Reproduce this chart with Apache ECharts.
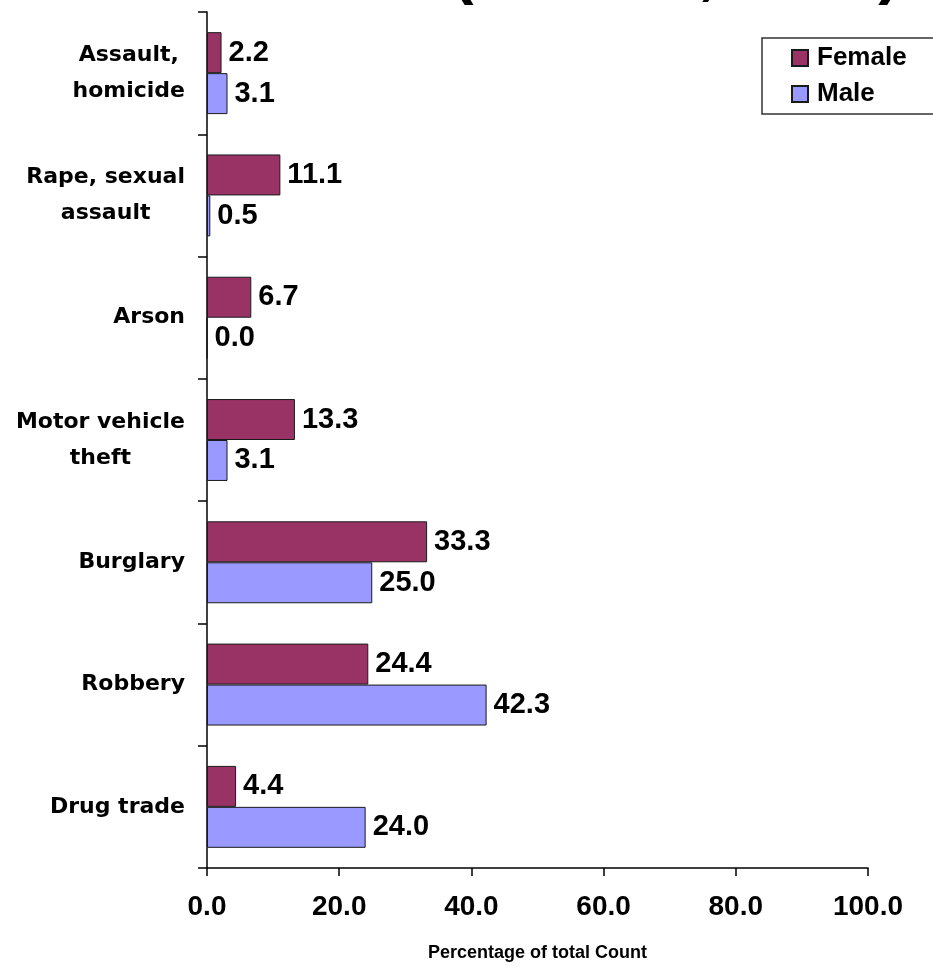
<!DOCTYPE html>
<html>
<head>
<meta charset="utf-8">
<script src="https://cdn.jsdelivr.net/npm/echarts@6/dist/echarts.min.js"></script>
<style>
  html, body { margin: 0; padding: 0; background: #fff; }
  #chart { width: 933px; height: 967px; }
</style>
</head>
<body>
<div id="chart"></div>
<script>
// Offense categories, listed top to bottom
const categories = [
  'Assault,\nhomicide',
  'Rape, sexual\nassault',
  'Arson',
  'Motor vehicle\ntheft',
  'Burglary',
  'Robbery',
  'Drug trade'
];

// Percentage of total count per category
const femaleValues = [2.2, 11.1, 6.7, 13.3, 33.3, 24.4, 4.4];
const maleValues   = [3.1, 0.5, 0.0, 3.1, 25.0, 42.3, 24.0];

// Value axis tick labels
const xTicks = [0, 20, 40, 60, 80, 100];

const seriesNames = ['Female', 'Male'];
const seriesColors = ['#993366', '#9999FF'];

const chart = echarts.init(document.getElementById('chart'), null, { renderer: 'canvas' });

const ARIAL = 'Liberation Sans, Arial, sans-serif';

const valueLabel = {
  show: true,
  position: 'right',
  distance: 7,
  formatter: p => Number(p.value).toFixed(1),
  color: '#000',
  fontFamily: ARIAL,
  fontWeight: 'bold',
  fontSize: 29
};

function makeSeries(name, values, color) {
  return {
    name: name,
    type: 'bar',
    data: values,
    barGap: '0%',
    barCategoryGap: '33%',
    itemStyle: { color: color, borderColor: '#1a1a1a', borderWidth: 1 },
    label: valueLabel,
    emphasis: { disabled: true },
    silent: true
  };
}

const option = {
  animation: false,
  backgroundColor: '#ffffff',
  graphic: [{
    type: 'text',
    left: 452,
    top: -58,
    style: {
      text: '(Female, Male)',
      fontFamily: ARIAL,
      fontWeight: 'bold',
      fontSize: 65,
      fill: '#000'
    }
  }],
  legend: {
    data: seriesNames,
    orient: 'vertical',
    left: 762,
    top: 38,
    padding: [7, 50, 7, 29],
    itemGap: 10,
    itemWidth: 16,
    itemHeight: 16,
    icon: 'rect',
    borderColor: '#333',
    borderWidth: 1.5,
    textStyle: {
      color: '#000',
      fontFamily: ARIAL,
      fontWeight: 'bold',
      fontSize: 26,
      padding: [0, 0, 0, 4]
    }
  },
  grid: {
    left: 207,
    right: 65,
    top: 12,
    bottom: 99,
    containLabel: false,
    outerBoundsMode: 'none'
  },
  xAxis: {
    type: 'value',
    min: xTicks[0],
    max: xTicks[xTicks.length - 1],
    interval: xTicks[1] - xTicks[0],
    name: 'Percentage of total Count',
    nameLocation: 'middle',
    nameGap: 76,
    nameTextStyle: {
      color: '#000',
      fontFamily: ARIAL,
      fontWeight: 'bold',
      fontSize: 18
    },
    axisLine: { show: true, lineStyle: { color: '#000', width: 1.5 } },
    axisTick: { show: true, length: 8, lineStyle: { color: '#000', width: 1.5 } },
    splitLine: { show: false },
    axisLabel: {
      margin: 25,
      formatter: v => v.toFixed(1),
      color: '#000',
      fontFamily: ARIAL,
      fontWeight: 'bold',
      fontSize: 28
    }
  },
  yAxis: {
    type: 'category',
    data: categories,
    inverse: true,
    axisLine: { show: true, lineStyle: { color: '#000', width: 1.5 } },
    axisTick: { show: true, length: 9, lineStyle: { color: '#000', width: 1.5 } },
    splitLine: { show: false },
    axisLabel: {
      margin: 22,
      formatter: v => v.split('\n').map(s => '{c|' + s + '}').join('\n'),
      rich: {
        c: {
          align: 'center',
          color: '#000',
          fontFamily: 'DejaVu Sans, Verdana, sans-serif',
          fontWeight: 'bold',
          fontSize: 22,
          lineHeight: 36
        }
      }
    }
  },
  series: [
    makeSeries(seriesNames[0], femaleValues, seriesColors[0]),
    makeSeries(seriesNames[1], maleValues, seriesColors[1])
  ]
};

chart.setOption(option);
</script>
</body>
</html>
